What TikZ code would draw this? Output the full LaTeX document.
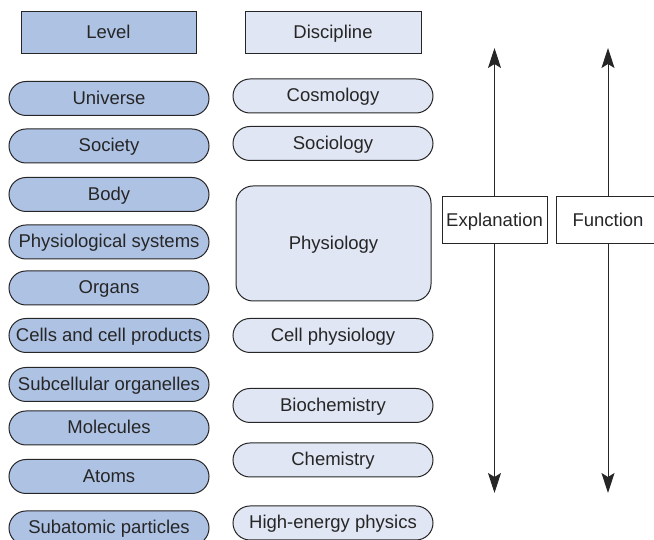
\documentclass[tikz,border=0pt]{standalone}
\usepackage{fontspec}
\setmainfont{Liberation Sans}
\usetikzlibrary{arrows.meta}
\definecolor{levelblue}{RGB}{174,194,228}
\definecolor{discblue}{RGB}{224,230,243}
\definecolor{inkgray}{RGB}{38,38,38}
\begin{document}
\begin{tikzpicture}[x=1pt, y=1pt,
    every node/.style={font=\fontsize{18.5}{22}\selectfont, text=inkgray, inner sep=0pt,
      text height=13.2pt, text depth=2pt},
    head/.style={draw=inkgray, line width=1pt, minimum height=42pt},
    pill/.style={draw=inkgray, line width=1pt, rounded corners=17pt,
      minimum width=200pt, minimum height=34pt},
    level/.style={pill, fill=levelblue},
    disc/.style={pill, fill=discblue},
    label/.style={draw=inkgray, line width=1pt, fill=white, minimum height=47pt},
    axis/.style={-{Stealth[length=20pt, width=13pt, inset=4pt]}, draw=inkgray, line width=1pt}]
  \useasboundingbox (0,0) rectangle (654,540);

  % headings
  \node[head, fill=levelblue, minimum width=175pt] (level) at (108.5,507) {Level};
  \node[head, fill=discblue, minimum width=176pt] (disc) at (333,507) {Discipline};

  % levels
  \node[level] (universe) at (109,441.5) {Universe};
  \node[level] (society) at (109,394) {Society};
  \node[level] (body) at (109,345.5) {Body};
  \node[level] (systems) at (109,298) {Physiological systems};
  \node[level] (organs) at (109,252) {Organs};
  \node[level] (cells) at (109,204.5) {Cells and cell products};
  \node[level] (organelles) at (109,155.5) {Subcellular organelles};
  \node[level] (molecules) at (109,112) {Molecules};
  \node[level] (atoms) at (109,63.5) {Atoms};
  \node[level] (particles) at (109,12) {Subatomic particles};

  % disciplines
  \node[disc] (cosmology) at (333,444) {Cosmology};
  \node[disc] (sociology) at (333,396.5) {Sociology};
  \node[disc, minimum width=195pt, minimum height=115pt] (physiology) at (333.5,296.5) {Physiology};
  \node[disc] (cellphys) at (333,204.5) {Cell physiology};
  \node[disc] (biochem) at (333,134.5) {Biochemistry};
  \node[disc] (chemistry) at (333,80) {Chemistry};
  \node[disc] (hep) at (333,17) {High-energy physics};

  % explanation and function axes
  \node[label, minimum width=105pt] (expl) at (494.5,319.5) {Explanation};
  \node[label, minimum width=104pt] (func) at (608,319.5) {Function};
  \coordinate (etop) at (494.5,492);
  \coordinate (ebot) at (494.5,47);
  \coordinate (ftop) at (608,492);
  \coordinate (fbot) at (608,47);

  \draw[axis] (expl) -- (etop);
  \draw[axis] (expl) -- (ebot);
  \draw[axis] (func) -- (ftop);
  \draw[axis] (func) -- (fbot);
\end{tikzpicture}
\end{document}
